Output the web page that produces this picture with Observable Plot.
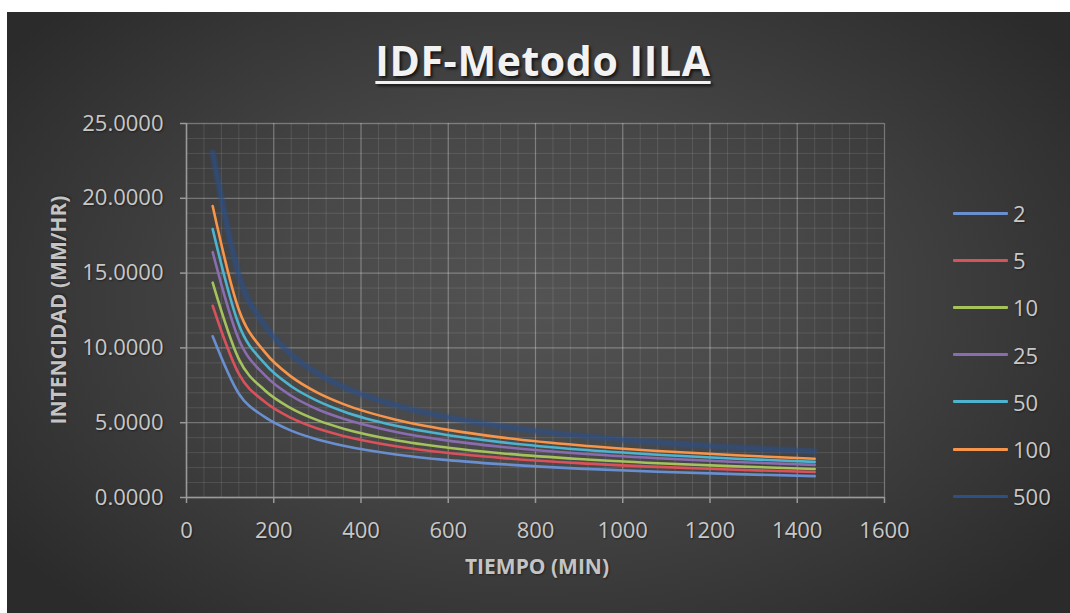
<!DOCTYPE html>
<html>
<head>
<meta charset="utf-8">
<script src="https://cdn.jsdelivr.net/npm/d3@7"></script>
<script src="https://cdn.jsdelivr.net/npm/@observablehq/plot@0.6"></script>
<style>
  html, body { margin: 0; padding: 0; background: #ffffff; }
  #page { position: relative; width: 1070px; height: 613px; overflow: hidden; font-family: "Open Sans", sans-serif; }
  #panel {
    position: absolute; left: 7px; top: 12px; width: 1063px; height: 601px;
    background: radial-gradient(ellipse 62% 70% at 50% 48%, #535353 0%, #484848 40%, #2b2b2b 100%);
  }
  #chart { position: absolute; left: 0; top: 0; }
  #chart svg { overflow: visible; }
  #chart text { text-shadow: 1px 1px 2px rgba(0,0,0,0.45); }
  .title {
    position: absolute; left: 0; width: 1086px; top: 40px; text-align: center;
    font-size: 41px; line-height: 1; font-weight: 700; color: #f2f2f2; letter-spacing: 0.6px;
    text-decoration: underline; text-decoration-thickness: 3px; text-underline-offset: 5px;
    text-shadow: 2px 2px 3px rgba(0,0,0,0.7);
  }
  .axis-title {
    position: absolute; font-size: 21px; line-height: 1; font-weight: 700; color: #c4c4c4;
    white-space: nowrap; text-shadow: 1px 1px 2px rgba(0,0,0,0.45);
  }
  .legend-item { position: absolute; left: 953px; height: 24px; display: flex; align-items: center; }
  .legend-swatch { width: 55px; height: 3px; border-radius: 1px; }
  .legend-label { margin-left: 5px; font-size: 22px; line-height: 1; color: #c8c8c8; text-shadow: 1px 1px 2px rgba(0,0,0,0.45); }
</style>
</head>
<body>
<div id="page">
  <div id="panel"></div>
  <div id="chart"></div>
  <div class="title">IDF-Metodo IILA</div>
  <div class="axis-title" id="xtitle" style="left:0; width:1074px; text-align:center; top:556px;">TIEMPO (MIN)</div>
  <div class="axis-title" id="ytitle" style="left:58px; top:310px; transform: translate(-50%, -50%) rotate(-90deg);">INTENCIDAD (MM/HR)</div>
</div>
<script>
// Storm durations (minutes) and rainfall intensity (mm/hr) for each return period (years)
const durations = [60, 120, 180, 240, 300, 360, 480, 600, 720, 900, 1080, 1260, 1440];
const returnPeriods = ["2", "5", "10", "25", "50", "100", "500"];
const intensityT2   = [10.78, 6.94, 5.37, 4.47, 3.88, 3.46, 2.88, 2.50, 2.23, 1.93, 1.72, 1.56, 1.43];
const intensityT5   = [12.82, 8.26, 6.38, 5.32, 4.61, 4.11, 3.42, 2.97, 2.65, 2.30, 2.05, 1.85, 1.70];
const intensityT10  = [14.36, 9.25, 7.15, 5.96, 5.17, 4.60, 3.83, 3.33, 2.96, 2.57, 2.29, 2.08, 1.91];
const intensityT25  = [16.40, 10.56, 8.16, 6.80, 5.90, 5.26, 4.38, 3.80, 3.39, 2.94, 2.62, 2.37, 2.18];
const intensityT50  = [17.94, 11.55, 8.93, 7.44, 6.46, 5.75, 4.79, 4.16, 3.70, 3.21, 2.86, 2.59, 2.38];
const intensityT100 = [19.48, 12.55, 9.70, 8.08, 7.01, 6.24, 5.20, 4.52, 4.02, 3.49, 3.11, 2.82, 2.59];
const intensityT500 = [23.06, 14.85, 11.48, 9.56, 8.30, 7.39, 6.16, 5.35, 4.76, 4.13, 3.68, 3.34, 3.07];
const seriesColors = ["#6a8fd0", "#d9525b", "#a5c25c", "#8a6db0", "#4db3cf", "#f7964a", "#2c4f86"];

const xTicks = [0, 200, 400, 600, 800, 1000, 1200, 1400, 1600];
const yTicks = [0, 5, 10, 15, 20, 25];
const xMinor = d3.range(0, 1601, 40);
const yMinor = d3.range(0, 26, 1);

const allSeries = [intensityT2, intensityT5, intensityT10, intensityT25, intensityT50, intensityT100, intensityT500];
const series = returnPeriods.map((T, k) => ({
  T,
  color: seriesColors[k],
  rows: durations.map((t, j) => ({t, i: allSeries[k][j]}))
}));

const lineMarks = series.map((s, k) => {
  const last = k === series.length - 1;
  return Plot.line(s.rows, {
    x: "t", y: "i",
    stroke: s.color,
    strokeWidth: last ? 5.5 : 2.6,
    strokeOpacity: last ? 0.72 : 1,
    curve: "monotone-x",
    ariaDescription: "T" + s.T
  });
});

const chart = Plot.plot({
  width: 1070,
  height: 613,
  marginLeft: 186,
  marginRight: 186,
  marginTop: 123,
  marginBottom: 116,
  style: {background: "transparent", fontFamily: "Open Sans", fontSize: "22px", color: "#c8c8c8"},
  x: {domain: [0, 1600], label: null},
  y: {domain: [0, 25], label: null},
  marks: [
    Plot.gridX(xMinor, {stroke: "#ffffff", strokeOpacity: 0.11, strokeWidth: 1}),
    Plot.gridY(yMinor, {stroke: "#ffffff", strokeOpacity: 0.11, strokeWidth: 1}),
    Plot.gridX(xTicks, {stroke: "#ffffff", strokeOpacity: 0.22, strokeWidth: 1.3}),
    Plot.gridY(yTicks, {stroke: "#ffffff", strokeOpacity: 0.22, strokeWidth: 1.3}),
    Plot.axisX({ticks: xTicks, tickSize: 6, tickPadding: 19, stroke: "#9a9a9a", strokeWidth: 1.5, label: null, tickFormat: d3.format("d")}),
    Plot.axisY({ticks: yTicks, tickSize: 6, tickPadding: 17, stroke: "#9a9a9a", strokeWidth: 1.5, label: null, tickFormat: d3.format(".4f")}),
    Plot.ruleX([0], {stroke: "#9a9a9a", strokeWidth: 1.5}),
    Plot.ruleY([0], {stroke: "#9a9a9a", strokeWidth: 1.5}),
    ...lineMarks
  ]
});
document.getElementById("chart").appendChild(chart);

// soften the widest series line
d3.select(chart).select('g[aria-description="T500"]').style("filter", "blur(0.9px)");

// legend: line swatch + return period
const page = document.getElementById("page");
returnPeriods.forEach((T, k) => {
  const item = document.createElement("div");
  item.className = "legend-item";
  item.style.top = (213 + k * 47.2 - 12) + "px";
  const sw = document.createElement("div");
  sw.className = "legend-swatch";
  sw.style.background = seriesColors[k];
  const lb = document.createElement("div");
  lb.className = "legend-label";
  lb.textContent = T;
  item.appendChild(sw);
  item.appendChild(lb);
  page.appendChild(item);
});
</script>
</body>
</html>
